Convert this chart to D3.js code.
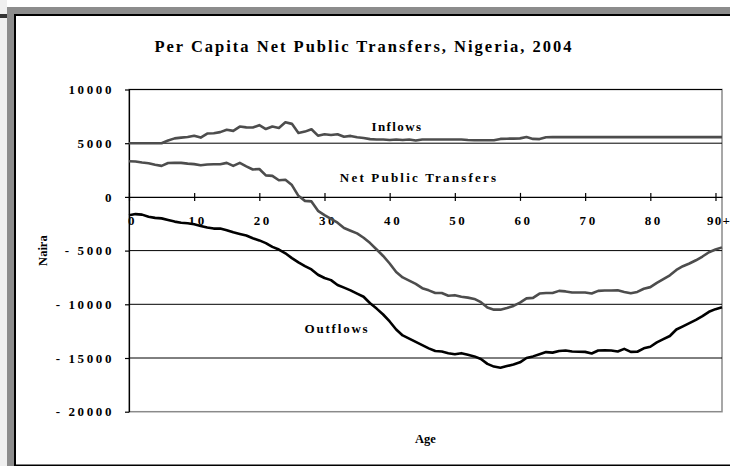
<!DOCTYPE html>
<html>
<head>
<meta charset="utf-8">
<script src="https://cdn.jsdelivr.net/npm/d3@7"></script>
<style>
    body { margin: 0; background: #fff; }
    svg text { font-family: "Liberation Serif", "Times New Roman", serif; font-weight: bold; fill: #000; }
</style>
</head>
<body>
<div id="chart"></div>
<script>

var ages = [0, 1, 2, 3, 4, 5, 6, 7, 8, 9, 10, 11, 12, 13, 14, 15, 16, 17, 18, 19,
    20, 21, 22, 23, 24, 25, 26, 27, 28, 29, 30, 31, 32, 33, 34, 35, 36, 37, 38, 39,
    40, 41, 42, 43, 44, 45, 46, 47, 48, 49, 50, 51, 52, 53, 54, 55, 56, 57, 58, 59,
    60, 61, 62, 63, 64, 65, 66, 67, 68, 69, 70, 71, 72, 73, 74, 75, 76, 77, 78, 79,
    80, 81, 82, 83, 84, 85, 86, 87, 88, 89, 90, 91];

var inflows = [5000, 5000, 5000, 5000, 5000, 5000, 5250, 5450, 5520, 5570,
    5700, 5520, 5900, 5930, 6030, 6250, 6150, 6550, 6470, 6460,
    6680, 6320, 6550, 6420, 6950, 6800, 5950, 6080, 6300, 5700,
    5830, 5760, 5840, 5600, 5680, 5550, 5480, 5380, 5350, 5350,
    5300, 5350, 5300, 5350, 5250, 5350, 5350, 5350, 5350, 5350,
    5350, 5350, 5300, 5270, 5270, 5270, 5270, 5400, 5420, 5430,
    5450, 5580, 5400, 5380, 5550, 5570, 5570, 5570, 5570, 5570,
    5570, 5570, 5570, 5570, 5570, 5570, 5570, 5570, 5570, 5570,
    5570, 5570, 5570, 5570, 5570, 5570, 5570, 5570, 5570, 5570, 5570, 5570];

var netTransfers = [3320, 3300, 3200, 3140, 3000, 2890, 3150, 3170, 3170, 3100,
    3050, 2950, 3020, 3040, 3040, 3170, 2890, 3170, 2850, 2550,
    2600, 2000, 1960, 1550, 1600, 1100, 100, -370, -420, -1300,
    -1700, -2050, -2400, -2900, -3150, -3400, -3800, -4300, -4900, -5500,
    -6200, -7000, -7500, -7800, -8100, -8500, -8700, -8950, -8950, -9200,
    -9150, -9300, -9380, -9500, -9800, -10300, -10500, -10500, -10350, -10150,
    -9850, -9450, -9400, -9000, -8950, -8950, -8750, -8800, -8900, -8900,
    -8900, -9000, -8750, -8720, -8720, -8700, -8850, -8970, -8850, -8550,
    -8400, -8000, -7650, -7300, -6800, -6450, -6200, -5900, -5550, -5150, -4900, -4700];

var outflows = [-1700, -1600, -1650, -1850, -1950, -2000, -2150, -2300, -2400, -2450,
    -2550, -2700, -2850, -2950, -2950, -3100, -3300, -3450, -3600, -3850,
    -4050, -4300, -4650, -4900, -5250, -5700, -6100, -6450, -6750, -7250,
    -7550, -7750, -8200, -8450, -8700, -9000, -9300, -9900, -10400, -10950,
    -11600, -12350, -12900, -13200, -13500, -13800, -14100, -14350, -14400, -14550,
    -14650, -14550, -14700, -14850, -15100, -15550, -15800, -15900, -15750, -15600,
    -15400, -15000, -14850, -14650, -14450, -14500, -14350, -14300, -14400, -14420,
    -14430, -14580, -14300, -14280, -14300, -14400, -14150, -14430, -14420, -14100,
    -13950, -13550, -13250, -12950, -12350, -12050, -11750, -11450, -11100, -10700, -10450, -10280];

var xTickValues = [0, 10, 20, 30, 40, 50, 60, 70, 80, 90];
var xTickLabels = ["0", "10", "20", "30", "40", "50", "60", "70", "80", "90+"];
var yTickValues = [10000, 5000, 0, -5000, -10000, -15000, -20000];

var seriesNames = ["Inflows", "Net Public Transfers", "Outflows"];
var seriesValues = [inflows, netTransfers, outflows];


var width = 730
    , height = 466
    , left = 129
    , right = 722
    , top_ = 89.5
    , bottom = 411.7
    ;

var svg = d3.select("#chart")
    .append("svg")
    .attr("width", width)
    .attr("height", height);

// outer frame (cropped slide border)
svg.append("rect").attr("x", 0).attr("y", 0).attr("width", 7).attr("height", height).attr("fill", "#efefef");
svg.append("rect").attr("x", 0).attr("y", 14).attr("width", 7).attr("height", 4).attr("fill", "#333");
svg.append("rect").attr("x", 7).attr("y", 7).attr("width", width - 7).attr("height", 7).attr("fill", "#8c8c8c");
svg.append("rect").attr("x", 7).attr("y", 7).attr("width", 7).attr("height", height - 7).attr("fill", "#8c8c8c");
svg.append("rect").attr("x", 14).attr("y", 14).attr("width", 2).attr("height", height - 14).attr("fill", "#000");
svg.append("rect").attr("x", 14).attr("y", 14).attr("width", width - 14).attr("height", 2).attr("fill", "#000");
svg.append("rect").attr("x", 14).attr("y", 464.5).attr("width", width - 14).attr("height", 1.5).attr("fill", "#000");

var x = d3.scaleLinear()
    .domain([0, 91])
    .range([left, right]);

var y = d3.scaleLinear()
    .domain([-20000, 10000])
    .range([bottom, top_]);

var g = svg.append("g");

// plot area border
g.append("rect")
    .attr("x", left)
    .attr("y", top_)
    .attr("width", right - left)
    .attr("height", bottom - top_)
    .attr("fill", "none")
    .attr("stroke", "#8a8a8a")
    .attr("stroke-width", 1.5);

// gridlines
g.append("g")
    .selectAll("line")
    .data(yTickValues.filter(function(d) { return d !== 0 && d !== -20000; }))
    .enter().append("line")
    .attr("x1", left)
    .attr("x2", right)
    .attr("y1", function(d) { return y(d); })
    .attr("y2", function(d) { return y(d); })
    .attr("stroke", "#000")
    .attr("stroke-width", 1);

// y axis
var yAxis = d3.axisLeft(y)
    .tickValues(yTickValues)
    .tickSizeInner(4)
    .tickSizeOuter(0)
    .tickPadding(11)
    .tickFormat(function(d) { return d < 0 ? "- " + Math.abs(d) : String(d); });

var gY = g.append("g")
    .attr("transform", "translate(" + left + ",0)")
    .call(yAxis);

gY.select(".domain").attr("stroke", "#000").attr("stroke-width", 1.2);
gY.selectAll(".tick line").attr("stroke", "#000").attr("stroke-width", 1.2);
gY.selectAll(".tick text")
    .attr("font-size", 13)
    .attr("letter-spacing", 2.6)
    .style("font-family", '"Liberation Serif", serif');

// x axis at zero
var xAxis = d3.axisBottom(x)
    .tickValues(xTickValues)
    .tickSizeOuter(0)
    .tickSizeInner(3)
    .tickFormat(function(d, i) { return xTickLabels[i]; });

var gX = g.append("g")
    .attr("transform", "translate(0," + y(0) + ")")
    .call(xAxis);

gX.select(".domain").attr("stroke", "#000").attr("stroke-width", 1.2);
gX.selectAll(".tick line").attr("y1", -4).attr("y2", 4).attr("stroke", "#000").attr("stroke-width", 1.2);
gX.selectAll(".tick text")
    .attr("y", 28)
    .attr("dy", 0)
    .attr("x", 3)
    .attr("font-size", 13)
    .attr("letter-spacing", function(d) { return d === 90 ? 1.2 : 2.6; })
    .style("font-family", '"Liberation Serif", serif');

// lines
var line = d3.line()
    .x(function(d, i) { return x(ages[i]); })
    .y(function(d) { return y(d); });

var colors = ["#4d4d4d", "#4d4d4d", "#000"];

seriesValues.forEach(function(vals, k) {
    g.append("path")
        .datum(vals)
        .attr("fill", "none")
        .attr("stroke", colors[k])
        .attr("stroke-width", 2.6)
        .attr("stroke-linejoin", "round")
        .attr("d", line);
});

// series labels
var labelPos = [[397, 131], [419, 182], [337, 333]];
var labelSpacing = [1.4, 2.2, 1.8];
seriesNames.forEach(function(name, k) {
    g.append("text")
        .attr("x", labelPos[k][0])
        .attr("y", labelPos[k][1])
        .attr("text-anchor", "middle")
        .attr("font-size", 13)
        .attr("letter-spacing", labelSpacing[k])
        .text(name);
});

// title and axis titles
svg.append("text")
    .attr("x", 364)
    .attr("y", 52)
    .attr("text-anchor", "middle")
    .attr("font-size", 16.5)
    .attr("letter-spacing", 2)
    .text("Per Capita Net Public Transfers, Nigeria, 2004");

svg.append("text")
    .attr("transform", "translate(47," + ((top_ + bottom) / 2) + ") rotate(-90)")
    .attr("text-anchor", "middle")
    .attr("font-size", 12.5)
    .text("Naira");

svg.append("text")
    .attr("x", (left + right) / 2)
    .attr("y", 443)
    .attr("text-anchor", "middle")
    .attr("font-size", 12.5)
    .text("Age");

</script>
</body>
</html>
